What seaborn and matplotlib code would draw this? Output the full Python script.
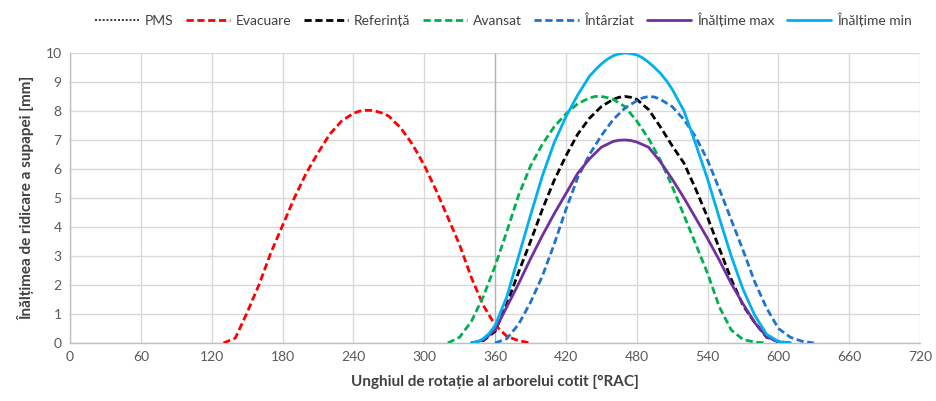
import matplotlib
matplotlib.use("Agg")
import matplotlib.pyplot as plt
import seaborn as sns
import pandas as pd

# Crank angle [°RAC] and valve lift [mm] for each curve
evac_deg = [130, 140, 150, 160, 170, 180, 190, 200, 210, 220, 230, 240, 245, 250,
            255, 260, 265, 270, 280, 290, 300, 310, 320, 330, 340, 350, 360, 370,
            380, 390]
evac_lift = [0, 0.17, 1.05, 2.0, 3.1, 4.05, 5.0, 5.85, 6.55, 7.2, 7.65, 7.92, 7.99,
             8.02, 8.02, 7.98, 7.92, 7.82, 7.42, 6.85, 6.13, 5.27, 4.33, 3.38,
             2.25, 1.3, 0.62, 0.23, 0.08, 0]

avans_deg = [320, 330, 340, 350, 360, 370, 380, 390, 400, 410, 420, 430, 440, 445,
             450, 455, 460, 470, 480, 490, 500, 510, 520, 530, 540, 550, 560, 570,
             580, 590]
avans_lift = [0, 0.2, 0.75, 1.6, 2.65, 3.85, 5.1, 6.1, 6.85, 7.45, 7.9, 8.25, 8.45,
              8.5, 8.5, 8.46, 8.4, 8.15, 7.65, 7.05, 6.3, 5.4, 4.4, 3.4, 2.4, 1.24,
              0.45, 0.12, 0.03, 0]

ref_deg = [340, 350, 360, 370, 380, 390, 400, 410, 420, 430, 440, 450, 460, 465,
           470, 475, 480, 490, 500, 510, 520, 530, 540, 550, 560, 570, 580, 590,
           600, 610]
ref_lift = [0, 0.08, 0.4, 1.35, 2.45, 3.5, 4.6, 5.6, 6.45, 7.2, 7.75, 8.15, 8.4,
            8.47, 8.5, 8.47, 8.4, 8.05, 7.45, 6.8, 6.2, 5.3, 4.33, 3.25, 2.2, 1.3,
            0.7, 0.2, 0.05, 0]

intarz_deg = [360, 370, 380, 390, 400, 410, 420, 430, 440, 450, 460, 470, 480, 485,
              490, 495, 500, 510, 520, 530, 540, 550, 560, 570, 580, 590, 600, 610,
              620, 630]
intarz_lift = [0, 0.15, 0.65, 1.4, 2.3, 3.4, 4.6, 5.7, 6.5, 7.15, 7.7, 8.1, 8.35,
               8.45, 8.5, 8.48, 8.4, 8.15, 7.7, 7.1, 6.3, 5.3, 4.25, 3.2, 2.1, 1.2,
               0.5, 0.2, 0.06, 0]

hmax_deg = [340, 350, 360, 370, 380, 390, 400, 410, 420, 430, 440, 450, 460, 465,
            470, 475, 480, 490, 500, 510, 520, 530, 540, 550, 560, 570, 580, 590,
            600, 610]
hmax_lift = [0, 0.1, 0.45, 1.25, 2.05, 2.9, 3.7, 4.45, 5.15, 5.85, 6.35, 6.75, 6.95,
             6.99, 7.0, 6.98, 6.93, 6.75, 6.25, 5.65, 5.0, 4.3, 3.6, 2.85, 2.05,
             1.35, 0.7, 0.22, 0.03, 0]

hmin_deg = [340, 345, 350, 355, 360, 370, 380, 390, 400, 410, 420, 430, 440, 445,
            450, 455, 460, 465, 470, 475, 480, 485, 490, 495, 500, 505, 510, 520,
            530, 540, 550, 560, 570, 580, 590, 600, 610]
hmin_lift = [0, 0.04, 0.15, 0.33, 0.6, 1.6, 3.0, 4.4, 5.75, 6.9, 7.8, 8.55, 9.2,
             9.42, 9.62, 9.78, 9.9, 9.97, 10.0, 9.98, 9.93, 9.83, 9.68, 9.5, 9.3,
             9.05, 8.75, 8.0, 6.85, 5.65, 4.3, 3.0, 1.85, 0.95, 0.3, 0.05, 0]

pms_deg = [360, 360]
pms_lift = [0, 10]

x_ticks = list(range(0, 721, 60))
y_ticks = list(range(0, 11))

sns.set_style("white")
plt.rcParams["font.family"] = ["Lato", "DejaVu Sans"]

fig = plt.figure(figsize=(9.37, 4.01), dpi=100)
ax = fig.add_axes([0.0747, 0.1446, 0.9073, 0.7234])

lw = 2.0
dash = (2.6, 1.3)

sns.lineplot(x=pms_deg, y=pms_lift, ax=ax, color="#1a1a1a", lw=1.2,
             linestyle=(0, (1.2, 1.1)), label="PMS", zorder=3)
series = [
    ("Evacuare", evac_deg, evac_lift, "#FF0000", True),
    ("Referință", ref_deg, ref_lift, "#000000", True),
    ("Avansat", avans_deg, avans_lift, "#00B050", True),
    ("Întârziat", intarz_deg, intarz_lift, "#1F73CC", True),
    ("Înălțime max", hmax_deg, hmax_lift, "#7030A0", False),
    ("Înălțime min", hmin_deg, hmin_lift, "#00B0F0", False),
]
for name, xs, ys, col, dashed in series:
    df = pd.DataFrame({"deg": xs, "lift": ys})
    line = sns.lineplot(data=df, x="deg", y="lift", ax=ax, color=col, lw=lw,
                        label=name, zorder=4, sort=False)
    mark = line.get_lines()[-1]
    mark.set_solid_joinstyle("round")
    mark.set_dash_joinstyle("round")
    if dashed:
        mark.set_dashes(dash)

ax.set_xlim(0, 720)
ax.set_ylim(0, 10)
ax.set_xticks(x_ticks)
ax.set_yticks(y_ticks)
ax.grid(True, color="#d9d9d9", lw=1.0)
ax.set_axisbelow(True)
for side in ["top", "right"]:
    ax.spines[side].set_visible(False)
for side in ["left", "bottom"]:
    ax.spines[side].set_color("#bfbfbf")
    ax.spines[side].set_linewidth(1.0)
ax.tick_params(axis="both", length=0, labelsize=10, colors="#595959", pad=6)

ax.set_xlabel("Unghiul de rotație al arborelui cotit [°RAC]", fontsize=11,
              fontweight="bold", color="#404040", labelpad=8)
ax.set_ylabel("Înălțimea de ridicare a supapei [mm]", fontsize=11,
              fontweight="bold", color="#404040", labelpad=8)

handles, labels = ax.get_legend_handles_labels()
ax.legend(handles, labels, loc="upper center", bbox_to_anchor=(0.537, 1.0),
          bbox_transform=fig.transFigure, ncol=7, frameon=False, fontsize=10,
          handlelength=3.2, handletextpad=0.4, columnspacing=0.9,
          labelcolor="#404040")

fig.savefig("out.png", dpi=100)
